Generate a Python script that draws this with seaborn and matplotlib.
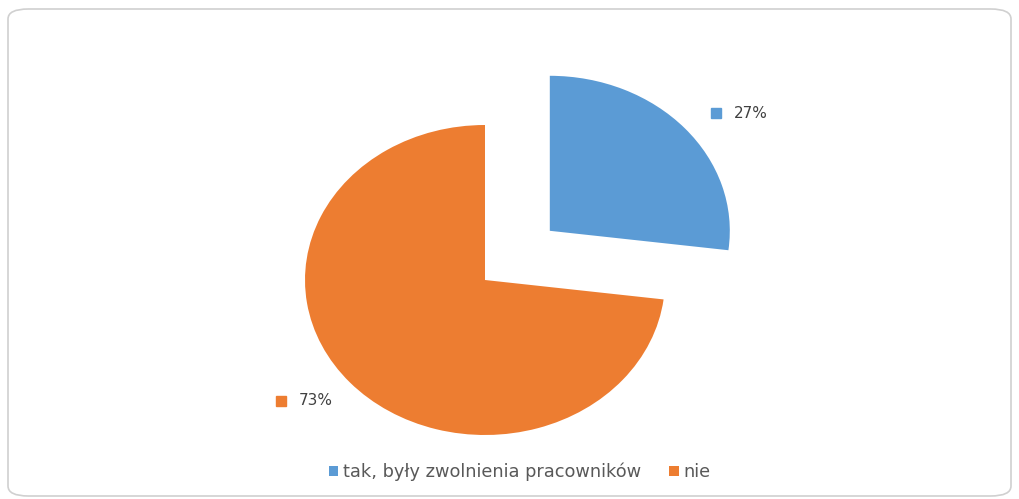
import matplotlib
matplotlib.use("Agg")
import matplotlib.pyplot as plt
import seaborn as sns
import numpy as np
from matplotlib.patches import FancyBboxPatch

categories = ["tak, były zwolnienia pracowników", "nie"]
values = [27, 73]
labels = ["27%", "73%"]
colors = ["#5B9BD5", "#ED7D31"]
explode = [0.48, 0.0]

sns.set_theme(style="white")
plt.rcParams['font.family'] = ['DejaVu Sans']

W, H = 1019, 499
fig = plt.figure(figsize=(W / 100, H / 100), dpi=100)
fig.patch.set_facecolor("white")

# rounded border
border = FancyBboxPatch((8 / W, 3 / H), (W - 16) / W, (H - 12) / H,
                        boxstyle="round,pad=0,rounding_size=0.02",
                        transform=fig.transFigure, facecolor="none",
                        edgecolor="#d0d0d0", linewidth=1.2, zorder=-1)
fig.patches.append(border)

ax = fig.add_axes([0, 0, 1, 1])
ax.patch.set_alpha(0)
wedges, _ = ax.pie(values, colors=colors, startangle=90, counterclock=False,
                   explode=explode, radius=1.0,
                   wedgeprops=dict(linewidth=0))
ax.set_aspect('auto')
cx, cy, rx, ry = 485, 280, 180, 155
ax.set_xlim(-cx / rx, (W - cx) / rx)
ax.set_ylim(-(H - cy) / ry, cy / ry)
ax.axis('off')

# data labels with colored square markers
lab_pos = [(1.283, 1.077), (-1.133, -0.78)]
for (x, y), lab, c in zip(lab_pos, labels, colors):
    ax.plot([x], [y], marker='s', markersize=6.5, color=c, linestyle='none')
    ax.text(x + 0.1, y, lab, fontsize=11, color="#404040",
            va='center', ha='left')

leg = fig.legend(wedges, categories, loc='center', bbox_to_anchor=(0.51, 0.054),
                 ncol=2, frameon=False, fontsize=12.8, handlelength=0.55,
                 handleheight=0.55, handletextpad=0.25, columnspacing=1.6)
for t in leg.get_texts():
    t.set_color("#595959")

fig.savefig("out.png", dpi=100, facecolor="white")
